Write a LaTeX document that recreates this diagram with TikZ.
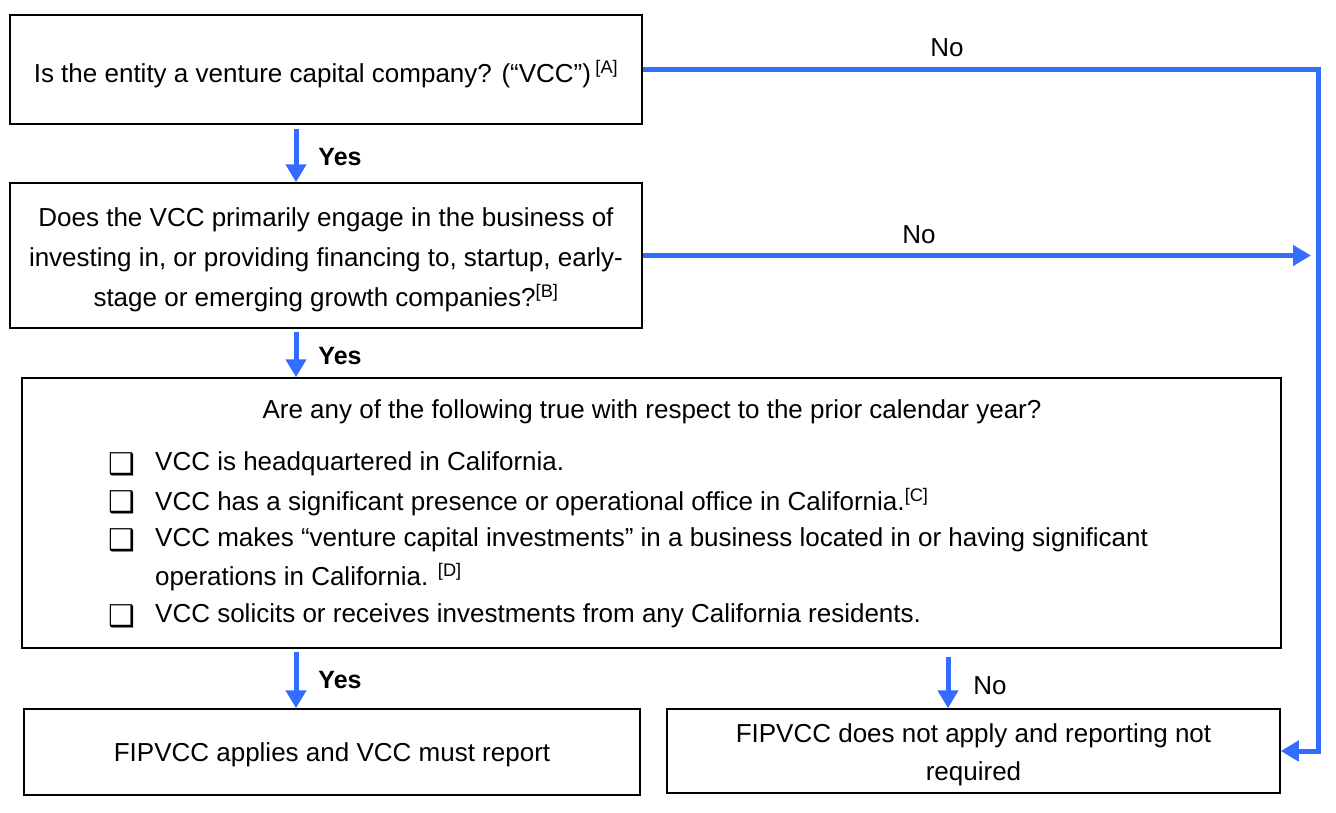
\documentclass[tikz,border=0pt]{standalone}
\usepackage{fontspec}
\setmainfont{Liberation Sans}
\newfontfamily\symfont{DejaVu Sans}
\usetikzlibrary{arrows.meta}
\definecolor{flowblue}{RGB}{51,108,255}
\newcommand{\topstrut}[1]{\rule{0pt}{#1}}
\begin{document}
\begin{tikzpicture}[x=1pt,y=-1pt,
  box/.style={draw=black,line width=1.5pt,inner sep=0pt,align=center,
    font=\fontsize{26}{40}\selectfont},
  arr/.style={draw=flowblue,line width=5pt,-{Triangle[length=18pt,width=20pt]}},
  lbl/.style={font=\fontsize{26}{30}\selectfont,inner sep=0pt},
  ylbl/.style={font=\bfseries\fontsize{25}{30}\selectfont,inner sep=0pt},
  item/.style={font=\fontsize{26}{30}\selectfont,inner sep=0pt,anchor=west},
  chk/.style={font=\symfont\fontsize{30}{34}\selectfont,inner sep=0pt}]
\useasboundingbox (0,0) rectangle (1336,812);

\node[box,minimum width=632pt,minimum height=109pt] (q1) at (326,69.5)
  {\topstrut{32pt}Is the entity a venture capital company? (“VCC”)\,\textsuperscript{[A]}};
\node[box,minimum width=632pt,minimum height=145pt] (q2) at (326,255.5)
  {\topstrut{28pt}Does the VCC primarily engage in the business of\\
   investing in, or providing financing to, startup, early-\\
   stage or emerging growth companies?\textsuperscript{[B]}};
\node[box,minimum width=1259pt,minimum height=270pt] (q3) at (651.5,513) {};
\node[box,minimum width=616pt,minimum height=86pt] (yes) at (332,752)
  {\topstrut{25pt}FIPVCC applies and VCC must report};
\node[box,minimum width=613pt,minimum height=84pt,font=\fontsize{26}{38}\selectfont] (no) at (973.5,751)
  {\topstrut{27pt}FIPVCC does not apply and reporting not\\required};

\node[lbl] (title) at (652,412) {Are any of the following true with respect to the prior calendar year?};
\node[chk] (c1) at (122,464) {❑};
\node[item] (t1) at (155,464) {VCC is headquartered in California.};
\node[chk] (c2) at (122,502) {❑};
\node[item] (t2) at (155,502) {VCC has a significant presence or operational office in California.\textsuperscript{[C]}};
\node[chk] (c3) at (122,540) {❑};
\node[item] (t3) at (155,540) {VCC makes “venture capital investments” in a business located in or having significant};
\node[item] (t3b) at (155,577) {operations in California. \textsuperscript{[D]}};
\node[chk] (c4) at (122,616) {❑};
\node[item] (t4) at (155,616) {VCC solicits or receives investments from any California residents.};

% connectors
\coordinate (turn1) at (1318,69.5);
\coordinate (turn2) at (1318,751);
\draw[arr,-] (q1.east) -- (turn1) -- (turn2);
\draw[arr,shorten <=-2.5pt] (turn2) -- (no.east);
\node[lbl] (no1) at (947,48) {No};

\coordinate (rail2) at (1311,255.5);
\draw[arr] (q2.east) -- (rail2);
\node[lbl] (no2) at (919,235) {No};

\draw[arr] ([yshift=-4pt]q1.south -| 296,0) -- (q2.north -| 296,0);
\node[ylbl] (y1) at (340,157) {Yes};
\draw[arr] ([yshift=-3pt]q2.south -| 296,0) -- (q3.north -| 296,0);
\node[ylbl] (y2) at (340,356) {Yes};
\draw[arr] ([yshift=-3pt]q3.south -| 296,0) -- (yes.north -| 296,0);
\node[ylbl] (y3) at (340,680) {Yes};
\draw[arr] ([yshift=-8pt]q3.south -| 948,0) -- (no.north -| 948,0);
\node[lbl] (n3) at (990,686) {No};
\end{tikzpicture}
\end{document}
